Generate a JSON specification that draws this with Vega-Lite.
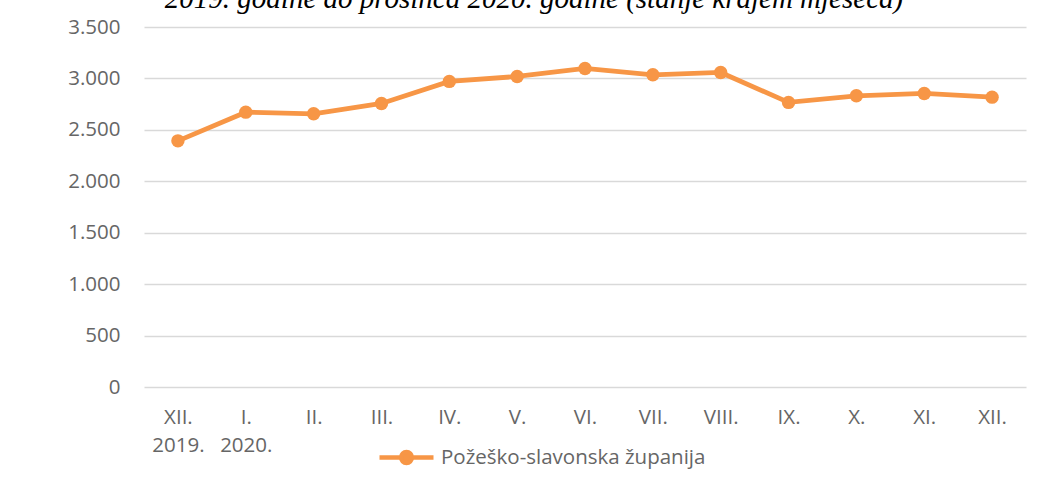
{
  "$schema": "https://vega.github.io/schema/vega-lite/v6.json",
  "autosize": "none",
  "width": 882,
  "height": 360,
  "padding": {"left": 144, "top": 27, "right": 28, "bottom": 101},
  "background": "white",
  "config": {
    "view": {"stroke": null},
    "font": "Open Sans"
  },
  "title": {
    "text": "2019. godine do prosinca 2020. godine (stanje krajem mjeseca)",
    "font": "Liberation Serif",
    "fontStyle": "italic",
    "fontWeight": "normal",
    "fontSize": 29,
    "color": "#000000",
    "anchor": "middle",
    "baseline": "alphabetic",
    "offset": 0,
    "dy": 20,
    "dx": -51
  },
  "data": {
    "values": [
      {"month": "XII. 2019.", "value": 2393, "series": "Požeško-slavonska županija"},
      {"month": "I. 2020.", "value": 2672, "series": "Požeško-slavonska županija"},
      {"month": "II.", "value": 2656, "series": "Požeško-slavonska županija"},
      {"month": "III.", "value": 2757, "series": "Požeško-slavonska županija"},
      {"month": "IV.", "value": 2971, "series": "Požeško-slavonska županija"},
      {"month": "V.", "value": 3019, "series": "Požeško-slavonska županija"},
      {"month": "VI.", "value": 3097, "series": "Požeško-slavonska županija"},
      {"month": "VII.", "value": 3035, "series": "Požeško-slavonska županija"},
      {"month": "VIII.", "value": 3058, "series": "Požeško-slavonska županija"},
      {"month": "IX.", "value": 2767, "series": "Požeško-slavonska županija"},
      {"month": "X.", "value": 2831, "series": "Požeško-slavonska županija"},
      {"month": "XI.", "value": 2854, "series": "Požeško-slavonska županija"},
      {"month": "XII.", "value": 2818, "series": "Požeško-slavonska županija"}
    ]
  },
  "encoding": {
    "x": {
      "field": "month",
      "type": "nominal",
      "sort": null,
      "scale": {"type": "point", "padding": 0.5},
      "axis": {
        "title": null,
        "labelAngle": 0,
        "labelExpr": "split(datum.label, ' ')",
        "labelFont": "Open Sans",
        "labelFontSize": 20.5,
        "labelColor": "#666666",
        "labelPadding": 30,
        "labelLineHeight": 28,
        "labelBaseline": "middle",
        "ticks": false,
        "domain": false,
        "grid": false
      }
    },
    "y": {
      "field": "value",
      "type": "quantitative",
      "scale": {"domain": [0, 3500], "nice": false},
      "axis": {
        "title": null,
        "values": [0, 500, 1000, 1500, 2000, 2500, 3000, 3500],
        "labelExpr": "replace(format(datum.value, ','), ',', '.')",
        "labelFont": "Open Sans",
        "labelFontSize": 20.5,
        "labelColor": "#666666",
        "labelPadding": 24,
        "ticks": false,
        "domain": false,
        "grid": true,
        "gridColor": "#d9d9d9",
        "gridWidth": 1.3
      }
    },
    "color": {
      "field": "series",
      "type": "nominal",
      "scale": {"range": ["#F79646"]},
      "legend": {
        "title": null,
        "orient": "none",
        "legendX": 233,
        "legendY": 401,
        "symbolType": "M -1 0 L -0.2 0 M 0.2 0 L 1 0 M -0.2 0 A 0.2 0.2 0 1 1 0.2 0 A 0.2 0.2 0 1 1 -0.2 0 Z",
        "symbolSize": 2916,
        "symbolStrokeWidth": 4.5,
        "symbolStrokeColor": "#F79646",
        "symbolFillColor": "#F79646",
        "labelFont": "Open Sans",
        "labelFontSize": 20.5,
        "labelColor": "#666666",
        "labelOffset": 5,
        "labelLimit": 400
      }
    }
  },
  "mark": {
    "type": "line",
    "strokeWidth": 4.8,
    "point": {"filled": true, "size": 180, "opacity": 1}
  }
}
